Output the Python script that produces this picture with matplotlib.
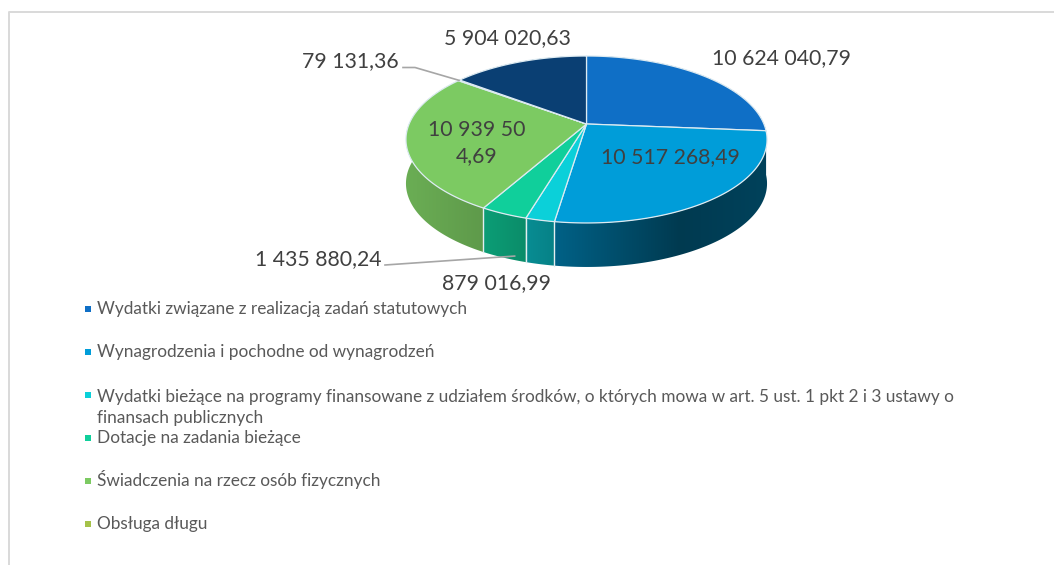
import numpy as np
import matplotlib
matplotlib.use('Agg')
import matplotlib.pyplot as plt
from matplotlib.patches import Polygon

plt.rcParams['font.family'] = ['Lato', 'DejaVu Sans']

values = [10624040.79, 10517268.49, 879016.99, 1435880.24, 10939504.69, 79131.36, 5904020.63]
value_labels = ['10 624 040,79', '10 517 268,49', '879 016,99', '1 435 880,24',
                '10 939 50\n4,69', '79 131,36', '5 904 020,63']
colors = ['#0F6FC6', '#009DD9', '#0BD0D9', '#10CF9B', '#7CCA62', '#A5C249', '#0A3F73']
legend_labels = ['Wydatki związane z realizacją zadań statutowych',
                 'Wynagrodzenia i pochodne od wynagrodzeń',
                 'Wydatki bieżące na programy finansowane z udziałem środków, o których mowa w art. 5 ust. 1 pkt 2 i 3 ustawy o\nfinansach publicznych',
                 'Dotacje na zadania bieżące',
                 'Świadczenia na rzecz osób fizycznych',
                 'Obsługa długu']

# label centres, same order as values
label_x = [781, 670.5, 496, 318, 477, 350, 507]
label_y = [58, 157, 283, 259, 143, 61, 38]
legend_y = [308, 351, 394, 437, 480, 523]

# tilted pie geometry in pixels
cx, cy = 586.5, 124
a, b, p = 177.4, 80.6, 0.1856
depth = 44

# how dark the side gets going left to right
shade_x = [406, 484, 555, 680, 767]
shade_f = [0.86, 0.76, 0.62, 0.37, 0.42]


def project(theta):
    u, v = np.sin(theta), np.cos(theta)
    return cx + a * u / (1 + p * v), cy - b * v / (1 + p * v)


fig = plt.figure(figsize=(10.54, 5.65), dpi=100)
ax = fig.add_axes([0, 0, 1, 1])
ax.axis('off')

# outer frame, cut off by the crop on the right and bottom
ax.plot([9, 9, 1054], [565, 11.7, 11.7], color='#D9D9D9', lw=1.4)

edges = 2 * np.pi * np.concatenate([[0], np.cumsum(values)]) / np.sum(values)
grad_x = np.linspace(400, 775, 376)
grad_f = np.interp(grad_x, shade_x, shade_f)

# sides first, the top faces cover the hidden part
for i, col in enumerate(colors):
    t = np.linspace(edges[i], edges[i + 1], 200)
    x, y = project(t)
    base = np.array(matplotlib.colors.to_rgb(col))
    strip = grad_f[None, :, None] * base[None, None, :]
    poly = Polygon(np.c_[np.r_[x, x[::-1]], np.r_[y, y[::-1] + depth]],
                   transform=ax.transData, fc='none', ec='none')
    ax.add_patch(poly)
    im = ax.imshow(strip, extent=(400, 775, 300, 40), aspect='auto', zorder=1,
                   interpolation='bilinear')
    im.set_clip_path(poly)

ax.set_xlim(0, 1054)
ax.set_ylim(565, 0)

for e in edges:
    x, y = project(e)
    if np.cos(e) < 0 and abs(np.sin(e)) < 0.9:
        ax.plot([x, x], [y, y + depth], color='#E4EEF0', lw=1.0, zorder=2)

for i, col in enumerate(colors):
    t = np.linspace(edges[i], edges[i + 1], 200)
    x, y = project(t)
    ax.fill(np.r_[cx, x], np.r_[cy, y], facecolor=col, edgecolor='#DDEBF2',
            lw=0.9, joinstyle='round', zorder=3)

# leader lines
x5, y5 = project(edges[5] + (edges[6] - edges[5]) / 2)
ax.plot([403, 415, x5], [67.5, 67.5, y5], color='#A6A6A6', lw=1.2, zorder=4)
x3, y3 = project(edges[3] + (edges[4] - edges[3]) * 0.25)
ax.plot([385, x3], [265, y3 + depth - 4], color='#A6A6A6', lw=1.2, zorder=4)

for lx, ly, s in zip(label_x, label_y, value_labels):
    ax.text(lx, ly, s, ha='center', va='center', fontsize=15.3, color='#404040',
            linespacing=1.42, zorder=5)

for ly, s, col in zip(legend_y, legend_labels, colors):
    ax.scatter([87.5], [ly + 1], marker='s', s=13, color=col, lw=0, zorder=5)
    # baseline anchors the last line of a wrapped entry
    ax.text(97, ly + 6 + 23 * s.count('\n'), s, ha='left', va='baseline', fontsize=12.4,
            color='#595959', linespacing=1.37, zorder=5)

fig.savefig('out.png', dpi=100)
